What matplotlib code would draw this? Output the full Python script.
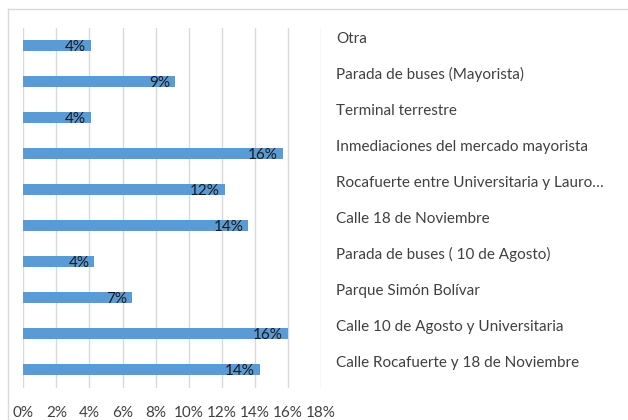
import matplotlib
matplotlib.use('Agg')
import matplotlib.pyplot as plt
import numpy as np
from matplotlib.lines import Line2D

plt.rcParams['font.family'] = ['Lato', 'DejaVu Sans']

lugares = ['Otra',
           'Parada de buses (Mayorista)',
           'Terminal terrestre',
           'Inmediaciones del mercado mayorista',
           'Rocafuerte entre Universitaria y Lauro…',
           'Calle 18 de Noviembre',
           'Parada de buses ( 10 de Agosto)',
           'Parque Simón Bolívar',
           'Calle 10 de Agosto y Universitaria',
           'Calle Rocafuerte y 18 de Noviembre']
porcentajes = [4.1, 9.2, 4.1, 15.7, 12.2, 13.6, 4.3, 6.6, 16.0, 14.3]
ticks_x = [0, 2, 4, 6, 8, 10, 12, 14, 16, 18]

fig = plt.figure(figsize=(6.28, 4.2), dpi=100)
ax = fig.add_axes([23.3 / 628, 32 / 420, 297.7 / 628, 360 / 420])

pos = np.arange(len(lugares))
ax.barh(pos + 0.233, porcentajes, height=0.31, color='#5b9bd5', zorder=3)
for y, v in zip(pos, porcentajes):
    ax.text(v - 0.3, y + 0.27, f'{v:.0f}%', ha='right', va='center',
            fontsize=11, color='#1a1a1a', zorder=4)

ax.set_xlim(0, 18)
ax.set_ylim(9.74, -0.26)
ax.set_xticks(ticks_x)
ax.set_xticklabels([f'{t}%' for t in ticks_x], fontsize=11, color='#404040')
ax.grid(axis='x', color='#d9d9d9', linewidth=1, zorder=0)
ax.set_yticks(pos)
ax.set_yticklabels(lugares, fontsize=11, color='#404040')
ax.yaxis.tick_right()
ax.tick_params(axis='y', length=0, pad=11)
ax.tick_params(axis='x', length=0, pad=13)
for s in ax.spines.values():
    s.set_visible(False)

# marco del gráfico
fig.add_artist(Line2D([8 / 628, 8 / 628], [0, 1 - 9 / 420], color='#d9d9d9', lw=1))
fig.add_artist(Line2D([8 / 628, 1], [1 - 9 / 420, 1 - 9 / 420], color='#d9d9d9', lw=1))

fig.savefig('out.png', dpi=100)
